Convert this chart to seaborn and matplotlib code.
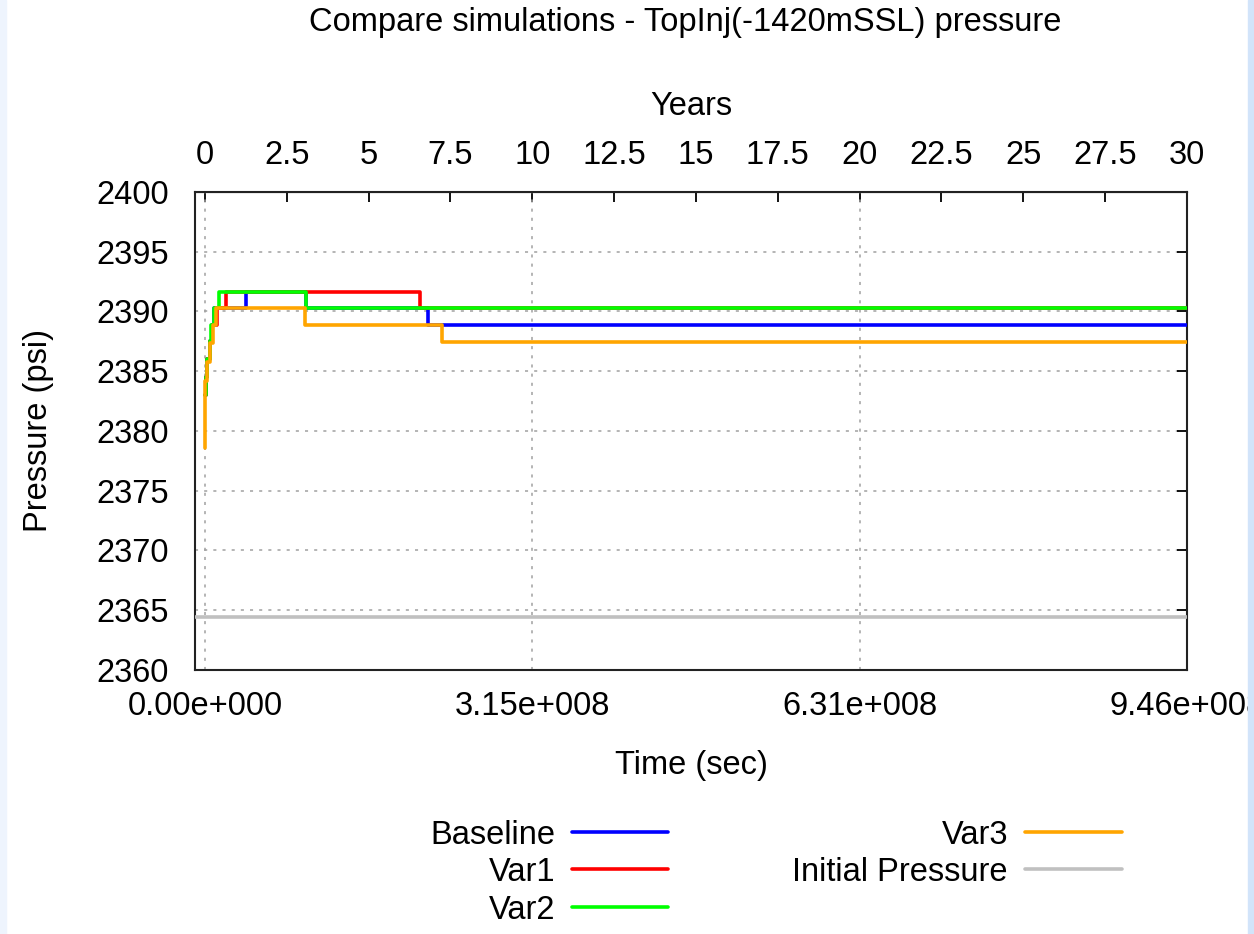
import numpy as np
import pandas as pd
import matplotlib
matplotlib.use("Agg")
import matplotlib.pyplot as plt
import seaborn as sns
from matplotlib.lines import Line2D
from matplotlib.patches import Rectangle

# ---------------- data ----------------
SEC_PER_YEAR = 9.46e8 / 30.0

series_names = ["Baseline", "Var1", "Var2", "Var3"]
series_colors = ["#0000ff", "#ff0000", "#00ff00", "#ffa500"]

baseline_years = [0, 0.03, 0.07, 0.14, 0.20, 0.28, 1.25, 3.08, 6.80, 30]
baseline_psi = [2383.0, 2384.5, 2386.0, 2387.5, 2388.9, 2390.3, 2391.65, 2390.3, 2388.85, 2388.85]

var1_years = [0, 0.03, 0.07, 0.14, 0.20, 0.38, 0.64, 6.57, 30]
var1_psi = [2383.0, 2384.5, 2386.0, 2387.5, 2388.9, 2390.3, 2391.65, 2390.3, 2390.3]

var2_years = [0, 0.03, 0.06, 0.14, 0.19, 0.27, 0.43, 3.08, 30]
var2_psi = [2383.0, 2384.5, 2386.0, 2387.5, 2388.9, 2390.3, 2391.65, 2390.3, 2390.3]

var3_years = [0, 0.015, 0.07, 0.14, 0.24, 0.35, 3.05, 7.25, 30]
var3_psi = [2378.6, 2384.2, 2385.8, 2387.4, 2388.9, 2390.3, 2388.85, 2387.45, 2387.45]

initial_name = "Initial Pressure"
initial_color = "#c0c0c0"
initial_pressure = 2364.4

x_tick_values = [0, 3.15e8, 6.31e8, 9.46e8]
x_tick_labels = ["0.00e+000", "3.15e+008", "6.31e+008", "9.46e+008"]
year_ticks = [0, 2.5, 5, 7.5, 10, 12.5, 15, 17.5, 20, 22.5, 25, 27.5, 30]
y_ticks = [2360, 2365, 2370, 2375, 2380, 2385, 2390, 2395, 2400]

all_years = [baseline_years, var1_years, var2_years, var3_years]
all_psi = [baseline_psi, var1_psi, var2_psi, var3_psi]

rows = []
for name, yrs, ps in zip(series_names, all_years, all_psi):
    for t, p in zip(yrs, ps):
        rows.append({"series": name, "time": t * SEC_PER_YEAR, "pressure": p})
df = pd.DataFrame(rows)

# ---------------- style ----------------
sns.set_style("white")
plt.rcParams["font.family"] = ["Liberation Sans", "DejaVu Sans"]
for key in ["text.color", "axes.labelcolor", "xtick.color", "ytick.color", "axes.edgecolor"]:
    plt.rcParams[key] = "black"
FS = 23.5
LW = 2.6

fig = plt.figure(figsize=(12.54, 9.34), dpi=100)
ax = fig.add_axes([195 / 1254, 1 - 670 / 934, (1187 - 195) / 1254, (670 - 192) / 934])

sns.lineplot(data=df, x="time", y="pressure", hue="series", hue_order=series_names,
             palette=dict(zip(series_names, series_colors)), estimator=None, sort=False,
             drawstyle="steps-post", lw=LW, legend=False, ax=ax, zorder=3)
ax.axhline(initial_pressure, color=initial_color, lw=LW, zorder=3)

ax.set_xlim(-9.6e6, 9.46e8)
ax.set_ylim(2360, 2400)
ax.set_xticks(x_tick_values)
ax.set_xticklabels(x_tick_labels)
ax.set_yticks(y_ticks)
ax.set_yticklabels([str(v) for v in y_ticks])
ax.grid(True, linestyle=(0, (2, 4)), color="#a0a0a0", lw=1.1, zorder=0)
ax.tick_params(direction="in", length=7, width=1.3, right=True, top=False,
               labelsize=FS, colors="black")
ax.tick_params(axis="y", pad=19)
ax.tick_params(axis="x", pad=15)
for s in ax.spines.values():
    s.set_color("#222222")
    s.set_linewidth(1.5)

ax.set_xlabel("Time (sec)", fontsize=FS, labelpad=20)
ax.set_ylabel("Pressure (psi)", fontsize=FS, labelpad=30)

secax = ax.secondary_xaxis("top", functions=(lambda s: s / SEC_PER_YEAR, lambda y: y * SEC_PER_YEAR))
secax.set_xticks(year_ticks)
secax.set_xticklabels(["%g" % v for v in year_ticks])
secax.tick_params(direction="in", length=7, width=1.3, labelsize=FS, pad=15, colors="black")
secax.set_xlabel("Years", fontsize=FS, labelpad=18)

fig.text(685 / 1254, 1 - 23 / 934, "Compare simulations - TopInj(-1420mSSL) pressure",
         fontsize=FS, ha="center", va="center")

# ---------------- legend (manual, right aligned text) ----------------
leg_names = series_names + [initial_name]
leg_colors = series_colors + [initial_color]
leg_pos = [(555, 572, 668, 832), (555, 572, 668, 869), (555, 572, 668, 907),
           (1008, 1025, 1122, 832), (1008, 1025, 1122, 869)]
for name, col, (tx, x0, x1, yy) in zip(leg_names, leg_colors, leg_pos):
    yf = 1 - yy / 934
    fig.text(tx / 1254, yf, name, fontsize=FS, ha="right", va="center_baseline")
    fig.add_artist(Line2D([x0 / 1254, x1 / 1254], [yf, yf], color=col, lw=LW,
                          transform=fig.transFigure))

# edge strips of the original screenshot
fig.add_artist(Rectangle((1248 / 1254, 0), 6 / 1254, 1, transform=fig.transFigure,
                         color="#d2e4fa", zorder=10))
fig.add_artist(Rectangle((0, 0), 6 / 1254, 1, transform=fig.transFigure,
                         color="#eef4fd", zorder=10))

fig.savefig("out.png", dpi=100, facecolor="white")
